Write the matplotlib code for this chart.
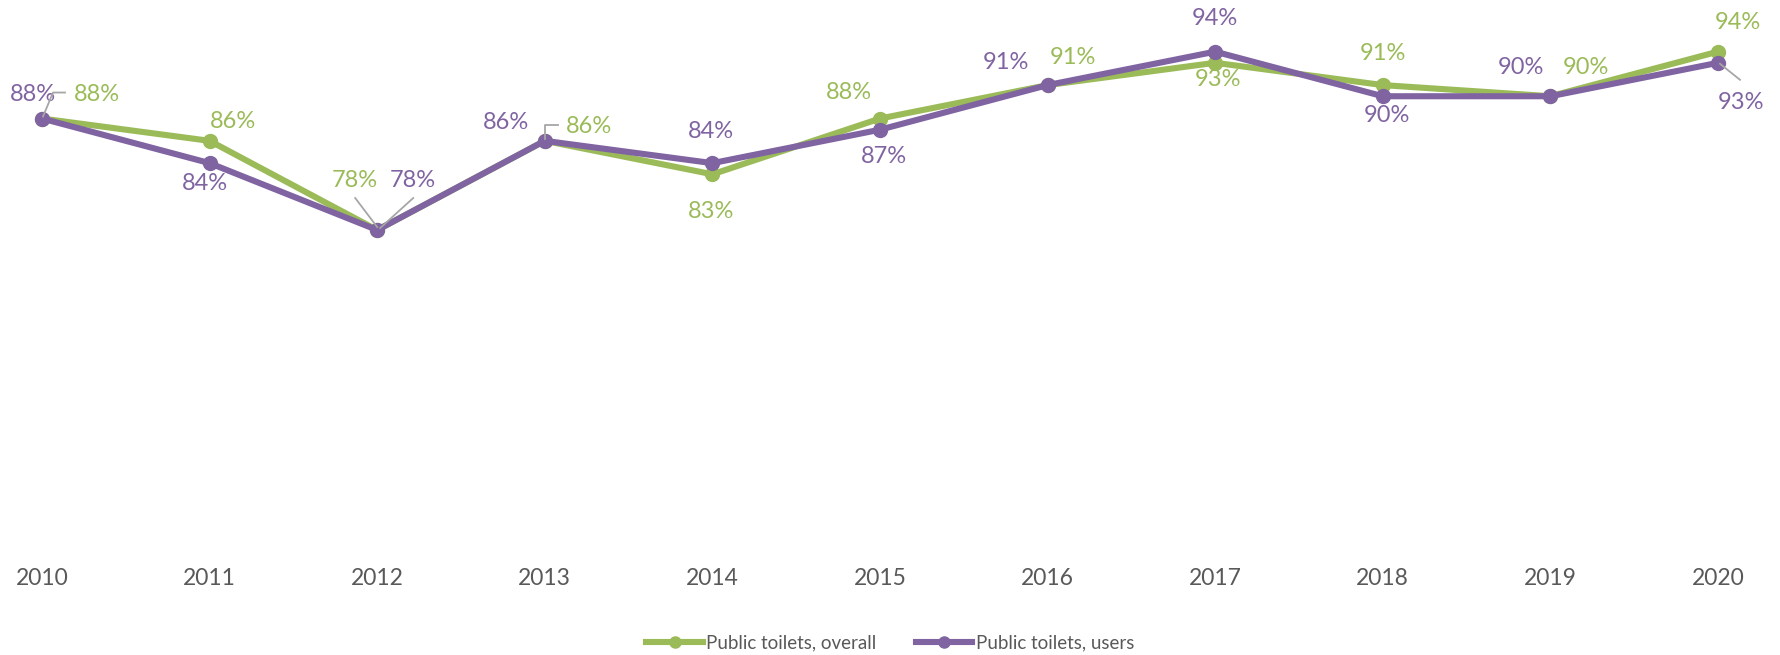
import matplotlib
matplotlib.use("Agg")
import matplotlib.pyplot as plt
from matplotlib.lines import Line2D
from matplotlib.transforms import IdentityTransform

plt.rcParams['font.family'] = ['Lato', 'DejaVu Sans']

# ---- data ----
years = [2010, 2011, 2012, 2013, 2014, 2015, 2016, 2017, 2018, 2019, 2020]
overall = [88, 86, 78, 86, 83, 88, 91, 93, 91, 90, 94]
users = [88, 84, 78, 86, 84, 87, 91, 94, 90, 90, 93]
series_names = ["Public toilets, overall", "Public toilets, users"]

# ---- style / layout ----
GREEN = "#9BBB59"
PURPLE = "#8064A2"
GREY_TXT = "#595959"
LEADER = "#A6A6A6"
W, H, DPI = 1781, 655, 100

# label offsets in pixels (dx right, dy down) relative to each point
green_off = [(55, -24), (23, -19), (-22, -50), (44, -14), (-1, 37), (-31, -26),
             (25, -28), (3, 17), (0, -32), (36, -29), (20, -29)]
purple_off = [(-9, -24), (-5, 20), (36, -50), (-39, -18), (-1, -32), (4, 27),
              (-42, -23), (0, -33), (4, 19), (-29, -29), (23, 40)]
# leader lines: (series, index, [pixel offsets polyline])
leaders = [
    ("g", 0, [(1, -2), (11, -26), (23, -26)]),
    ("g", 2, [(0, -3), (-22, -32)]),
    ("p", 2, [(3, -2), (36, -32)]),
    ("g", 3, [(0, -2), (0, -16), (13, -16)]),
    ("p", 10, [(2, 1), (22, 17)]),
]

fig = plt.figure(figsize=(W / DPI, H / DPI), dpi=DPI)
left, right = 42 / W, 1718 / W
bottom, top = (H - 542.2) / H, (H - 40.5) / H
ax = fig.add_axes([left, bottom, right - left, top - bottom])
ax.set_xlim(years[0], years[-1])
ax.set_ylim(50, 95)

ax.plot(years, overall, color=GREEN, lw=4.4, marker='o', ms=10,
        label=series_names[0], clip_on=False, zorder=3, solid_joinstyle='round')
ax.plot(years, users, color=PURPLE, lw=4.4, marker='o', ms=10,
        label=series_names[1], clip_on=False, zorder=4, solid_joinstyle='round')

for s in ax.spines.values():
    s.set_visible(False)
ax.set_yticks([])
ax.set_xticks(years)
ax.set_xticklabels([str(y) for y in years])
ax.tick_params(axis='x', length=0, pad=18.5, labelsize=16.5, labelcolor=GREY_TXT)

for vals, offs, col in ((overall, green_off, GREEN), (users, purple_off, PURPLE)):
    for x, v, (dx, dy) in zip(years, vals, offs):
        ax.annotate(f"{v}%", (x, v), xytext=(dx, -dy), textcoords='offset pixels',
                    ha='center', va='center', fontsize=17, color=col, zorder=5)

for ser, i, pts in leaders:
    vals = overall if ser == "g" else users
    px, py = ax.transData.transform((years[i], vals[i]))
    xs = [px + dx for dx, dy in pts]
    ys = [py - dy for dx, dy in pts]
    fig.add_artist(Line2D(xs, ys, color=LEADER, lw=1.3, transform=IdentityTransform(), zorder=6))

leg = fig.legend(loc='center', bbox_to_anchor=(0.5, (H - 643) / H), ncol=2, frameon=False,
                 fontsize=13.5, handlelength=3.0, handletextpad=0.2, columnspacing=2.1,
                 labelcolor=GREY_TXT)
for h in leg.legend_handles:
    h.set_markersize(8)
    h.set_linewidth(4.4)

fig.savefig("out.png", dpi=DPI)
